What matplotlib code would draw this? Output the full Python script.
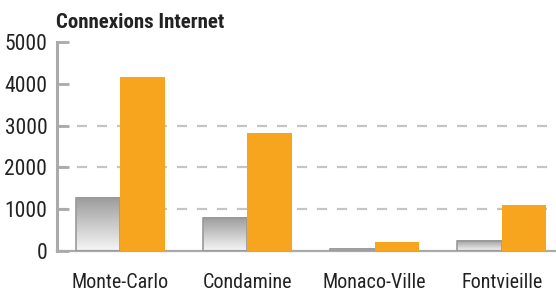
import numpy as np
import matplotlib.pyplot as plt
from matplotlib import font_manager
from matplotlib.colors import LinearSegmentedColormap

# pick a narrow sans if one is installed
noms = {f.name for f in font_manager.fontManager.ttflist}
etroits = [f.name for f in font_manager.fontManager.ttflist
           if f.stretch in ('condensed', 'semi-condensed', 'extra-condensed', 550, 600, 500)
           or 'Narrow' in f.name or 'Condensed' in f.name]
candidats = ['Liberation Sans Narrow', 'Roboto Condensed', 'Open Sans Condensed',
             'Noto Sans Condensed', 'DejaVu Sans Condensed', 'Arial Narrow'] + etroits
police = next((c for c in candidats if c in noms), 'Liberation Sans')
plt.rcParams['font.family'] = [police, 'DejaVu Sans']

quartiers = ['Monte-Carlo', 'Condamine', 'Monaco-Ville', 'Fontvieille']
serie_grise = [1275, 800, 55, 245]
serie_orange = [4160, 2830, 215, 1100]
yticks = [0, 1000, 2000, 3000, 4000, 5000]
grid_vals = [1000, 2000, 3000]

fig = plt.figure(figsize=(5.56, 2.91), dpi=100)
ax = fig.add_axes([0.1025, 0.1375, 0.8975, 0.718])

x = np.arange(len(quartiers))
w = 0.35
orange = '#F7A51E'
grey_cmap = LinearSegmentedColormap.from_list('g', ['#f6f6f6', '#9c9c9c'])
grad = np.linspace(0, 1, 100).reshape(-1, 1)

for g in grid_vals:
    ax.axhline(g, color='#c4c4c4', lw=1.6, ls=(0, (4.5, 4.5)), zorder=0)

for xi, v in zip(x, serie_grise):
    ax.imshow(grad, extent=[xi - w, xi, 0, v], origin='lower', aspect='auto',
              cmap=grey_cmap, zorder=2)
    ax.bar(xi - w, v, width=w, align='edge', fill=False, edgecolor='#9a9a9a',
           lw=1.2, zorder=3)

ax.bar(x, serie_orange, width=w, align='edge', color=orange, zorder=3)

ax.set_xlim(-0.496, 3.425)
ax.set_ylim(0, 5000)
ax.set_yticks(yticks)
ax.set_yticklabels([str(t) for t in yticks], fontsize=15.5, color='#222222')
ax.tick_params(axis='y', direction='in', length=8.5, width=2, color='#aaaaaa', pad=7)
ax.set_xticks(x)
ax.set_xticklabels(quartiers, fontsize=14.5, color='#222222')
ax.tick_params(axis='x', length=0, pad=16)

for s in ['top', 'right']:
    ax.spines[s].set_visible(False)
ax.spines['left'].set_color('#aaaaaa')
ax.spines['left'].set_linewidth(2.2)
ax.spines['bottom'].set_color('#aaaaaa')
ax.spines['bottom'].set_linewidth(1.6)

fig.text(0.1, 0.904, 'Connexions Internet', fontsize=15, fontweight='bold',
         color='#222222', ha='left', va='baseline')

fig.savefig('out.png', dpi=100)
